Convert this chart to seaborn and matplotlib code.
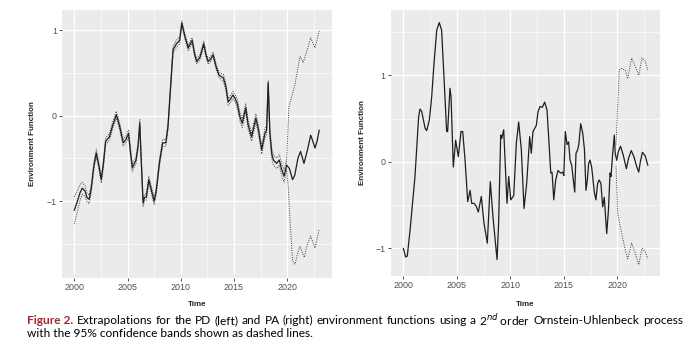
import numpy as np
import pandas as pd
import matplotlib
matplotlib.use("Agg")
import matplotlib.pyplot as plt
import seaborn as sns
from matplotlib.ticker import MultipleLocator

# ---- PD (left) environment function ----
pd_year = [2000.0, 2000.3, 2000.55, 2000.75, 2001.0, 2001.2, 2001.4, 2001.6, 2001.85, 2002.07,
           2002.3, 2002.54, 2002.75, 2002.95, 2003.3, 2003.6, 2003.95, 2004.25, 2004.6, 2004.85,
           2005.1, 2005.3, 2005.45, 2005.8, 2006.0, 2006.15, 2006.3, 2006.46, 2006.6, 2006.77,
           2007.0, 2007.2, 2007.5, 2007.7, 2008.0, 2008.3, 2008.6, 2008.8, 2009.0, 2009.28,
           2009.6, 2009.9, 2010.1, 2010.4, 2010.7, 2011.07, 2011.3, 2011.5, 2011.8, 2012.16,
           2012.35, 2012.57, 2012.8, 2013.04, 2013.3, 2013.6, 2014.0, 2014.23, 2014.45, 2014.7,
           2014.9, 2015.1, 2015.3, 2015.55, 2015.77, 2016.1, 2016.33, 2016.65, 2017.05, 2017.27,
           2017.6, 2017.9, 2018.06, 2018.21, 2018.37, 2018.55, 2018.7, 2019.0, 2019.25, 2019.47,
           2019.7, 2019.94]
pd_value = [-1.11, -1.00, -0.90, -0.85, -0.88, -0.96, -0.98, -0.85, -0.58, -0.44,
            -0.58, -0.75, -0.55, -0.30, -0.25, -0.12, 0.01, -0.12, -0.32, -0.28,
            -0.21, -0.45, -0.61, -0.52, -0.35, -0.09, -0.55, -1.02, -0.96, -0.95,
            -0.75, -0.85, -1.00, -0.88, -0.55, -0.32, -0.32, -0.13, 0.25, 0.77,
            0.84, 0.88, 1.08, 0.92, 0.79, 0.88, 0.72, 0.63, 0.68, 0.84,
            0.72, 0.63, 0.66, 0.71, 0.58, 0.47, 0.44, 0.34, 0.16, 0.20,
            0.24, 0.20, 0.14, -0.01, -0.09, 0.09, -0.11, -0.25, -0.03, -0.15,
            -0.40, -0.21, -0.17, 0.38, -0.21, -0.45, -0.52, -0.56, -0.52, -0.63,
            -0.71, -0.58]
# half width of the (narrow) historical confidence band
pd_ci = [0.16, 0.12, 0.09, 0.07, 0.06, 0.05, 0.05, 0.04, 0.04, 0.04,
         0.04, 0.04, 0.04, 0.04, 0.04, 0.04, 0.04, 0.04, 0.04, 0.04,
         0.04, 0.04, 0.04, 0.04, 0.04, 0.04, 0.04, 0.04, 0.04, 0.04,
         0.04, 0.04, 0.04, 0.04, 0.04, 0.04, 0.04, 0.04, 0.04, 0.04,
         0.04, 0.04, 0.03, 0.03, 0.03, 0.03, 0.03, 0.03, 0.03, 0.03,
         0.03, 0.03, 0.03, 0.03, 0.03, 0.03, 0.04, 0.04, 0.04, 0.04,
         0.04, 0.04, 0.05, 0.05, 0.05, 0.05, 0.05, 0.05, 0.05, 0.05,
         0.05, 0.05, 0.05, 0.03, 0.05, 0.06, 0.06, 0.06, 0.06, 0.07,
         0.07, 0.06]

pd_fc_year = [2019.94, 2020.2, 2020.5, 2020.7, 2021.0, 2021.25, 2021.57, 2021.9, 2022.2, 2022.4,
              2022.6, 2022.8, 2023.0]
pd_fc_value = [-0.58, -0.62, -0.75, -0.70, -0.50, -0.42, -0.56, -0.40, -0.23, -0.30,
               -0.38, -0.30, -0.17]
pd_up_year = [2019.94, 2020.15, 2020.4, 2020.72, 2021.03, 2021.2, 2021.5, 2021.98, 2022.2, 2022.6, 2023.0]
pd_up_value = [-0.55, 0.10, 0.21, 0.36, 0.58, 0.69, 0.62, 0.81, 0.91, 0.79, 0.99]
pd_lo_year = [2019.94, 2020.1, 2020.3, 2020.5, 2020.72, 2021.0, 2021.2, 2021.6, 2021.9, 2022.2,
              2022.6, 2023.0]
pd_lo_value = [-0.62, -0.85, -1.30, -1.70, -1.74, -1.60, -1.53, -1.66, -1.50, -1.41,
               -1.55, -1.33]

# ---- PA (right) environment function ----
pa_year = [2000.0, 2000.22, 2000.37, 2000.63, 2001.09, 2001.43, 2001.56, 2001.72, 2002.03, 2002.18,
           2002.43, 2002.65, 2002.87, 2003.12, 2003.36, 2003.58, 2003.8, 2004.05, 2004.14, 2004.36,
           2004.46, 2004.67, 2004.89, 2005.14, 2005.39, 2005.55, 2005.77, 2006.02, 2006.24, 2006.39,
           2006.6, 2006.8, 2007.01, 2007.29, 2007.54, 2007.85, 2008.13, 2008.38, 2008.76, 2008.91,
           2009.1, 2009.2, 2009.38, 2009.69, 2009.85, 2010.04, 2010.32, 2010.56, 2010.78, 2011.03,
           2011.28, 2011.53, 2011.81, 2011.96, 2012.12, 2012.43, 2012.59, 2012.78, 2012.99, 2013.21,
           2013.43, 2013.62, 2013.78, 2013.9, 2014.06, 2014.24, 2014.46, 2014.7, 2014.9, 2015.0,
           2015.14, 2015.3, 2015.45, 2015.58, 2015.74, 2015.89, 2016.02, 2016.14, 2016.3, 2016.4,
           2016.58, 2016.77, 2016.93, 2017.07, 2017.2, 2017.32, 2017.45, 2017.6, 2017.7, 2017.85,
           2018.0, 2018.16, 2018.3, 2018.47, 2018.63, 2018.78, 2019.01, 2019.17, 2019.32, 2019.41,
           2019.57, 2019.72, 2019.8, 2019.94]
pa_value = [-1.00, -1.10, -1.09, -0.79, -0.17, 0.52, 0.61, 0.58, 0.39, 0.36,
            0.48, 0.75, 1.14, 1.52, 1.61, 1.52, 0.98, 0.35, 0.35, 0.85,
            0.75, -0.06, 0.25, 0.06, 0.35, 0.35, 0.02, -0.46, -0.33, -0.48,
            -0.48, -0.51, -0.58, -0.40, -0.71, -0.94, -0.23, -0.64, -1.13, -0.70,
            0.31, 0.27, 0.37, -0.48, -0.17, -0.44, -0.39, 0.21, 0.46, 0.14,
            -0.54, -0.25, 0.29, 0.10, 0.35, 0.42, 0.58, 0.64, 0.63, 0.69,
            0.60, 0.21, -0.13, -0.12, -0.44, -0.21, -0.10, -0.13, -0.12, -0.16,
            0.35, 0.20, 0.23, 0.02, -0.04, -0.21, -0.35, 0.10, 0.14, 0.20,
            0.44, 0.33, 0.14, -0.33, -0.21, -0.02, 0.02, -0.06, -0.17, -0.35,
            -0.44, -0.25, -0.21, -0.25, -0.52, -0.41, -0.83, -0.56, -0.13, -0.17,
            0.10, 0.31, 0.10, 0.02]

pa_fc_year = [2019.94, 2020.1, 2020.3, 2020.55, 2020.85, 2021.05, 2021.3, 2021.55, 2021.8, 2022.0,
              2022.15, 2022.35, 2022.6, 2022.85]
pa_fc_value = [0.02, 0.12, 0.18, 0.08, -0.08, 0.04, 0.13, 0.06, -0.05, -0.12,
               0.00, 0.11, 0.07, -0.04]
pa_up_year = [2019.88, 2020.19, 2020.34, 2020.75, 2020.97, 2021.34, 2021.69, 2022.0, 2022.31, 2022.62, 2022.84]
pa_up_value = [0.20, 1.06, 1.08, 1.06, 0.96, 1.20, 1.10, 1.00, 1.20, 1.16, 1.06]
pa_lo_year = [2019.88, 2020.04, 2020.34, 2020.75, 2020.97, 2021.34, 2021.69, 2022.0, 2022.31, 2022.62, 2022.84]
pa_lo_value = [-0.05, -0.60, -0.79, -1.02, -1.12, -0.94, -1.06, -1.19, -1.00, -1.04, -1.12]

x_ticks = [2000, 2005, 2010, 2015, 2020]

caption_head = "Figure 2."
caption_line1 = ("Extrapolations for the PD (left) and PA (right) environment functions using a "
                 r"2$^{nd}$ order Ornstein-Uhlenbeck process")
caption_line2 = "with the 95% confidence bands shown as dashed lines."

sns.set_theme(style="darkgrid", rc={
    "axes.facecolor": "#EBEBEB",
    "grid.color": "white",
    "axes.edgecolor": "#EBEBEB",
    "xtick.bottom": True,
    "ytick.left": True,
    "xtick.color": "#333333",
    "ytick.color": "#333333",
    "xtick.major.size": 2.2,
    "ytick.major.size": 2.2,
    "xtick.major.width": 0.6,
    "ytick.major.width": 0.6,
    "xtick.major.pad": 1.5,
    "ytick.major.pad": 1.5,
})
plt.rcParams["font.family"] = ["Liberation Sans", "DejaVu Sans"]

fig = plt.figure(figsize=(6.88, 3.52), dpi=100)
ax1 = fig.add_axes([62 / 688, 74 / 352, 270 / 688, 268 / 352])
ax2 = fig.add_axes([390.7 / 688, 76 / 352, 269.3 / 688, 266 / 352])

line_col = "#1f1f1f"
dot_col = "#3a3a3a"
dots = (0, (1, 1.4))

# left panel
pd_lo_hist = [v - c for v, c in zip(pd_value, pd_ci)]
pd_up_hist = [v + c for v, c in zip(pd_value, pd_ci)]
sns.lineplot(x=pd_year, y=pd_up_hist, ax=ax1, color=dot_col, lw=0.7, ls=dots, estimator=None, sort=False)
sns.lineplot(x=pd_year, y=pd_lo_hist, ax=ax1, color=dot_col, lw=0.7, ls=dots, estimator=None, sort=False)
sns.lineplot(x=pd_up_year, y=pd_up_value, ax=ax1, color=dot_col, lw=0.7, ls=dots, estimator=None, sort=False)
sns.lineplot(x=pd_lo_year, y=pd_lo_value, ax=ax1, color=dot_col, lw=0.7, ls=dots, estimator=None, sort=False)
sns.lineplot(x=pd_year, y=pd_value, ax=ax1, color=line_col, lw=0.9, estimator=None, sort=False)
sns.lineplot(x=pd_fc_year, y=pd_fc_value, ax=ax1, color=line_col, lw=0.9, estimator=None, sort=False)
ax1.set_xlim(1998.85, 2024.2)
ax1.set_ylim(-1.90, 1.234)
ax1.set_yticks([-1, 0, 1])

# right panel
sns.lineplot(x=pa_up_year, y=pa_up_value, ax=ax2, color=dot_col, lw=0.7, ls=dots, estimator=None, sort=False)
sns.lineplot(x=pa_lo_year, y=pa_lo_value, ax=ax2, color=dot_col, lw=0.7, ls=dots, estimator=None, sort=False)
sns.lineplot(x=pa_year, y=pa_value, ax=ax2, color=line_col, lw=0.9, estimator=None, sort=False)
sns.lineplot(x=pa_fc_year, y=pa_fc_value, ax=ax2, color=line_col, lw=0.9, estimator=None, sort=False)
ax2.set_xlim(1998.82, 2023.99)
ax2.set_ylim(-1.32, 1.755)
ax2.set_yticks([-1, 0, 1])

for ax, ylx, xly in [(ax1, -0.096, -0.086), (ax2, -0.093, -0.094)]:
    ax.set_xticks(x_ticks)
    ax.xaxis.set_minor_locator(MultipleLocator(2.5))
    ax.yaxis.set_minor_locator(MultipleLocator(0.5))
    ax.grid(which="major", color="white", lw=0.9)
    ax.grid(which="minor", color="white", lw=0.45)
    ax.tick_params(which="minor", length=0)
    ax.tick_params(labelsize=6.4, labelcolor="#4D4D4D")
    for s in ax.spines.values():
        s.set_visible(False)
    ax.set_xlabel("Time", fontsize=5.8, fontweight="bold")
    ax.set_ylabel("Environment Function", fontsize=5.8, fontweight="bold")
    ax.yaxis.set_label_coords(ylx, 0.5)
    ax.xaxis.set_label_coords(0.5, xly)

# caption, first line justified between x=27 and x=683 like the journal layout
cap_font = ["Lato", "DejaVu Sans"]
cap_size = 8.6
y1 = 1 - 320.5 / 352
y2 = 1 - 333.5 / 352
renderer = fig.canvas.get_renderer()
t_head = fig.text(27 / 688, y1, caption_head, fontsize=cap_size, fontweight="bold",
                  color="#A3282E", family=cap_font, va="center")
words = caption_line1.replace("2$^{nd}$ order", "2$^{nd}$\u00a0order").split(" ")
words = [w.replace("\u00a0", " ") for w in words]
word_texts = [fig.text(0, y1, w, fontsize=cap_size, color="black", family=cap_font, va="center")
              for w in words]
head_w = t_head.get_window_extent(renderer).width
widths = [t.get_window_extent(renderer).width for t in word_texts]
start = 27 + head_w
free = 683 - start - sum(widths)
gap = free / len(words)
x = start + gap
for t, w in zip(word_texts, widths):
    t.set_x(x / 688)
    x += w + gap
fig.text(27 / 688, y2, caption_line2, fontsize=cap_size, color="black", family=cap_font, va="center")

fig.savefig("out.png", dpi=100)
